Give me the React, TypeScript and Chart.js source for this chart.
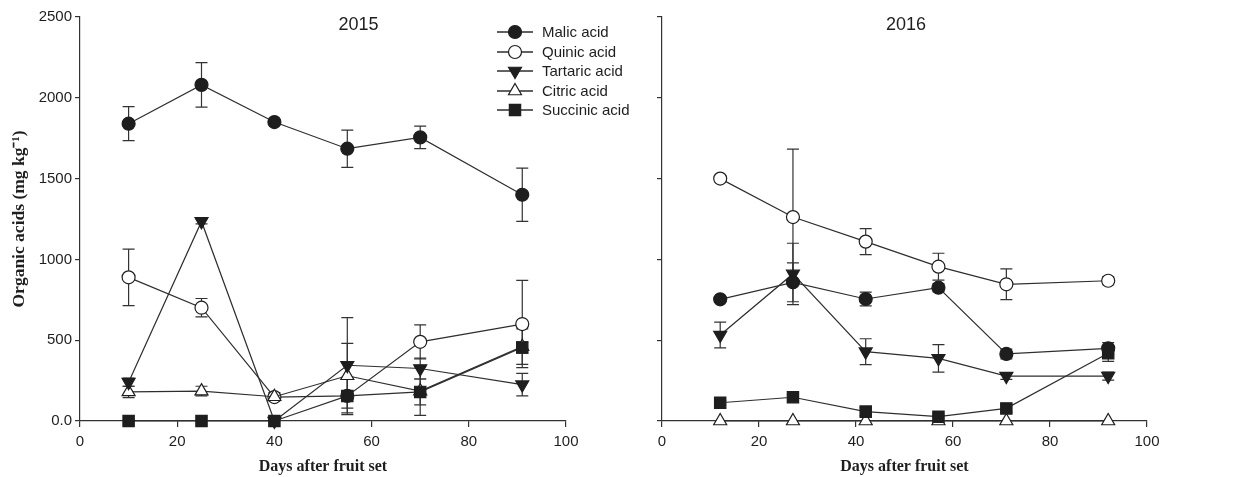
import React, { useEffect, useRef } from "react";
import { Chart, registerables } from "chart.js";

Chart.register(...registerables);

// ---------- data ----------
const seriesNames = ["Malic acid", "Quinic acid", "Tartaric acid", "Citric acid", "Succinic acid"];
const xTickValues = [0, 20, 40, 60, 80, 100];
const yTickValues = [0, 500, 1000, 1500, 2000, 2500];

const days2015 = [10, 25, 40, 55, 70, 91];
const malic2015 = [1840, 2080, 1850, 1685, 1755, 1400];
const malicErr2015 = [105, 138, 10, 115, 70, 165];
const quinic2015 = [889, 701, 148, 155, 490, 600];
const quinicErr2015 = [175, 57, 12, 0, 105, 270];
const tartaric2015 = [240, 1235, 0, 345, 325, 225];
const tartaricErr2015 = [25, 15, 0, 295, 65, 70];
const citric2015 = [180, 185, 150, 280, 185, 460];
const citricErr2015 = [35, 30, 25, 200, 150, 110];
const succinic2015 = [0, 0, 0, 155, 180, 455];
const succinicErr2015 = [0, 0, 0, 115, 80, 35];

const days2016 = [12, 27, 42, 57, 71, 92];
const malic2016 = [753, 858, 755, 825, 415, 450];
const malicErr2016 = [15, 120, 43, 25, 30, 35];
const quinic2016 = [1500, 1262, 1110, 955, 846, 868];
const quinicErr2016 = [20, 420, 80, 83, 95, 25];
const tartaric2016 = [532, 910, 429, 388, 278, 278];
const tartaricErr2016 = [80, 190, 80, 85, 20, 25];
const citric2016 = [0, 0, 0, 0, 0, 0];
const citricErr2016 = [0, 0, 0, 0, 0, 0];
const succinic2016 = [113, 147, 58, 27, 78, 419];
const succinicErr2016 = [15, 15, 25, 10, 25, 50];

// ---------- styles ----------
const INK = "#1e1e1e";
const LINE = "#2e2e2e";
const markerStyles = [
  { pointStyle: "circle", rotation: 0, filled: true, radius: 6.5, order: 0 },
  { pointStyle: "circle", rotation: 0, filled: false, radius: 6.5, order: 4 },
  { pointStyle: "triangle", rotation: 180, filled: true, radius: 7.5, order: 2 },
  { pointStyle: "triangle", rotation: 0, filled: false, radius: 7.5, order: 3 },
  { pointStyle: "rect", rotation: 0, filled: true, radius: 8, order: 1 },
];

function makeDatasets(days: number[], values: number[][], errors: number[][]) {
  return values.map((vals, i) => {
    const m = markerStyles[i];
    return {
      label: seriesNames[i],
      data: days.map((d, j) => ({ x: d, y: vals[j] })),
      errorBars: errors[i],
      order: m.order,
      borderColor: LINE,
      borderWidth: 1.2,
      pointStyle: m.pointStyle,
      rotation: m.rotation,
      pointRadius: m.radius,
      pointBorderWidth: 1.2,
      pointBorderColor: INK,
      pointBackgroundColor: m.filled ? INK : "#ffffff",
      showLine: true,
      clip: false,
      tension: 0,
    };
  });
}

function drawMarker(ctx: CanvasRenderingContext2D, style: any, x: number, y: number) {
  const r = style.radius;
  ctx.save();
  ctx.beginPath();
  if (style.pointStyle === "circle") {
    ctx.arc(x, y, r, 0, Math.PI * 2);
  } else if (style.pointStyle === "rect") {
    const s = r * Math.SQRT1_2;
    ctx.rect(x - s, y - s, 2 * s, 2 * s);
  } else {
    let rad = (style.rotation * Math.PI) / 180;
    ctx.moveTo(x + Math.sin(rad) * r, y - Math.cos(rad) * r);
    rad += (2 * Math.PI) / 3;
    ctx.lineTo(x + Math.sin(rad) * r, y - Math.cos(rad) * r);
    rad += (2 * Math.PI) / 3;
    ctx.lineTo(x + Math.sin(rad) * r, y - Math.cos(rad) * r);
    ctx.closePath();
  }
  ctx.fillStyle = style.filled ? INK : "#ffffff";
  ctx.fill();
  ctx.lineWidth = 1.2;
  ctx.strokeStyle = INK;
  ctx.stroke();
  ctx.restore();
}

const errorBarPlugin = {
  id: "errorBars",
  beforeDatasetsDraw(chart: any) {
    const { ctx } = chart;
    const xs = chart.scales.x;
    const ys = chart.scales.y;
    ctx.save();
    ctx.strokeStyle = "#333333";
    ctx.lineWidth = 1.2;
    chart.data.datasets.forEach((ds: any) => {
      ds.data.forEach((p: any, j: number) => {
        const e = ds.errorBars ? ds.errorBars[j] : 0;
        if (!e) return;
        const x = xs.getPixelForValue(p.x);
        const yTop = ys.getPixelForValue(p.y + e);
        const yBot = ys.getPixelForValue(Math.max(0, p.y - e));
        const cap = 6;
        ctx.beginPath();
        ctx.moveTo(x, yTop);
        ctx.lineTo(x, yBot);
        ctx.moveTo(x - cap, yTop);
        ctx.lineTo(x + cap, yTop);
        if (p.y - e >= 0) {
          ctx.moveTo(x - cap, yBot);
          ctx.lineTo(x + cap, yBot);
        }
        ctx.stroke();
      });
    });
    ctx.restore();
  },
};

const panelTitlePlugin = {
  id: "panelTitle",
  afterDraw(chart: any, _args: any, opts: any) {
    if (!opts || !opts.text) return;
    const { ctx, chartArea } = chart;
    ctx.save();
    ctx.font = "18px 'Liberation Sans', Arial, sans-serif";
    ctx.fillStyle = INK;
    ctx.textAlign = "center";
    ctx.textBaseline = "middle";
    ctx.fillText(opts.text, chartArea.left + opts.fx * (chartArea.right - chartArea.left), chartArea.top + opts.dy);
    ctx.restore();
  },
};

const customLegendPlugin = {
  id: "customLegend",
  afterDraw(chart: any, _args: any, opts: any) {
    if (!opts || !opts.show) return;
    const { ctx, chartArea } = chart;
    const x0 = chartArea.left + 417;
    const rowY = [32, 52, 71, 91, 110];
    ctx.save();
    ctx.font = "15px 'Liberation Sans', Arial, sans-serif";
    ctx.textBaseline = "middle";
    ctx.textAlign = "left";
    seriesNames.forEach((name, i) => {
      const y = rowY[i];
      ctx.beginPath();
      ctx.strokeStyle = LINE;
      ctx.lineWidth = 1.3;
      ctx.moveTo(x0, y);
      ctx.lineTo(x0 + 36, y);
      ctx.stroke();
      drawMarker(ctx, markerStyles[i], x0 + 18, y);
      ctx.fillStyle = INK;
      ctx.fillText(name, x0 + 45, y + 1);
    });
    ctx.restore();
  },
};

function makeConfig(
  days: number[],
  values: number[][],
  errors: number[][],
  isLeft: boolean,
  title: string,
  titleFx: number
): any {
  return {
    type: "scatter",
    data: { datasets: makeDatasets(days, values, errors) },
    plugins: [errorBarPlugin, panelTitlePlugin, customLegendPlugin],
    options: {
      animation: false,
      responsive: false,
      devicePixelRatio: 1,
      layout: { padding: { top: 17, right: isLeft ? 84 : 95, left: 0, bottom: 0 } },
      plugins: {
        legend: { display: false },
        tooltip: { enabled: false },
        panelTitle: { text: title, fx: titleFx, dy: 8 },
        customLegend: { show: isLeft },
      },
      scales: {
        x: {
          type: "linear",
          min: 0,
          max: 100,
          afterBuildTicks: (s: any) => {
            s.ticks = xTickValues.map((v) => ({ value: v }));
          },
          afterFit: (s: any) => {
            s.height = 56;
          },
          border: { display: true, color: "#333333", width: 1.2 },
          grid: { drawOnChartArea: false, drawTicks: true, tickLength: 6, color: "#333333", lineWidth: 1.2 },
          ticks: {
            color: INK,
            padding: 6,
            maxRotation: 0,
            font: { family: "'Liberation Sans', Arial, sans-serif", size: 15 },
          },
          title: {
            display: true,
            text: "Days after fruit set",
            color: INK,
            padding: { top: 0, bottom: 1 },
            font: { family: "'Liberation Serif', 'Times New Roman', serif", size: 16, weight: "bold" },
          },
        },
        y: {
          type: "linear",
          min: 0,
          max: 2500,
          afterBuildTicks: (s: any) => {
            s.ticks = yTickValues.map((v) => ({ value: v }));
          },
          afterFit: (s: any) => {
            s.width = isLeft ? 80 : 42;
          },
          border: { display: true, color: "#333333", width: 1.2 },
          grid: { drawOnChartArea: false, drawTicks: true, tickLength: 5, color: "#333333", lineWidth: 1.2 },
          ticks: {
            color: INK,
            padding: 3,
            font: { family: "'Liberation Sans', Arial, sans-serif", size: 15 },
            callback: (v: any) => (isLeft ? (v === 0 ? "0.0" : String(v)) : ""),
          },
          title: {
            display: isLeft,
            text: "Organic acids (mg kg⁻¹)",
            color: INK,
            padding: { top: 9, bottom: 0 },
            font: { family: "'Liberation Serif', 'Times New Roman', serif", size: 17.5, weight: "bold" },
          },
        },
      },
    },
  };
}

export default function App() {
  const leftRef = useRef<HTMLCanvasElement | null>(null);
  const rightRef = useRef<HTMLCanvasElement | null>(null);

  useEffect(() => {
    const c1 = new Chart(
      leftRef.current as HTMLCanvasElement,
      makeConfig(
        days2015,
        [malic2015, quinic2015, tartaric2015, citric2015, succinic2015],
        [malicErr2015, quinicErr2015, tartaricErr2015, citricErr2015, succinicErr2015],
        true,
        "2015",
        0.573
      )
    );
    const c2 = new Chart(
      rightRef.current as HTMLCanvasElement,
      makeConfig(
        days2016,
        [malic2016, quinic2016, tartaric2016, citric2016, succinic2016],
        [malicErr2016, quinicErr2016, tartaricErr2016, citricErr2016, succinicErr2016],
        false,
        "2016",
        0.503
      )
    );
    return () => {
      c1.destroy();
      c2.destroy();
    };
  }, []);

  return (
    <div style={{ position: "fixed", left: 0, top: 0, width: 1242, height: 477, background: "#ffffff" }}>
      <canvas
        ref={leftRef}
        width={650}
        height={477}
        style={{ position: "absolute", left: 0, top: 0, width: 650, height: 477 }}
      />
      <canvas
        ref={rightRef}
        width={622}
        height={477}
        style={{ position: "absolute", left: 620, top: 0, width: 622, height: 477 }}
      />
    </div>
  );
}
